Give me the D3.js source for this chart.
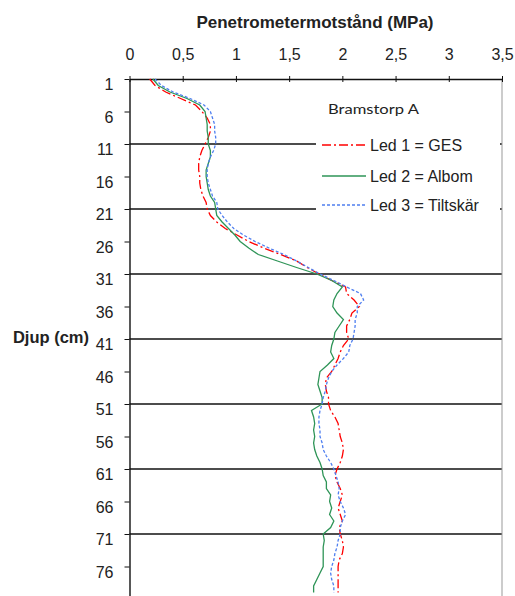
<!DOCTYPE html>
<html>
<head>
<meta charset="utf-8">
<script src="https://cdn.jsdelivr.net/npm/d3@7"></script>
<style>
body{margin:0;background:#fff;}
svg text{font-family:"Liberation Sans",Arial,sans-serif;fill:#222;}
</style>
</head>
<body>
<div id="container"></div>
<script>
// depth in cm
var depth = [1,2,3,4,5,6,7,8,9,10,11,12,13,14,15,16,17,18,19,20,
  21,22,23,24,25,26,27,28,29,30,31,32,33,34,35,36,37,38,39,40,
  41,42,43,44,45,46,47,48,49,50,51,52,53,54,55,56,57,58,59,60,
  61,62,63,64,65,66,67,68,69,70,71,72,73,74,75,76,77,78,79,80]

// Led 1 = GES
var led1 = [0.19,0.24,0.34,0.48,0.62,0.68,0.73,0.76,0.76,0.74,0.71,0.68,0.66,0.65,0.65,0.66,0.66,0.67,0.69,0.72,
  0.73,0.76,0.82,0.90,1.01,1.12,1.26,1.42,1.57,1.67,1.78,1.90,2.03,2.04,2.11,2.16,2.09,2.07,2.04,2.04,
  2.06,2.01,1.98,1.96,1.93,1.90,1.85,1.84,1.85,1.87,1.87,1.89,1.93,1.96,1.97,1.98,2.00,2.01,2.00,1.98,
  1.95,1.93,1.95,1.98,2.00,1.98,1.96,1.98,2.00,1.97,1.98,2.00,2.01,2.00,1.97,1.96,1.96,1.96,1.96,1.96]

// Led 2 = Albom
var led2 = [0.22,0.27,0.38,0.54,0.66,0.71,0.72,0.73,0.73,0.74,0.74,0.76,0.76,0.74,0.72,0.72,0.73,0.74,0.76,0.80,
  0.81,0.82,0.87,0.93,0.99,1.04,1.12,1.21,1.39,1.57,1.76,1.90,2.00,1.95,1.92,1.91,1.95,2.01,1.97,1.93,
  1.92,1.90,1.89,1.92,1.86,1.79,1.78,1.77,1.79,1.81,1.81,1.71,1.73,1.74,1.73,1.74,1.73,1.74,1.76,1.79,
  1.81,1.82,1.85,1.85,1.89,1.88,1.90,1.88,1.92,1.89,1.82,1.83,1.82,1.82,1.82,1.82,1.79,1.76,1.73,1.73]

// Led 3 = Tiltskär
var led3 = [0.24,0.30,0.41,0.57,0.70,0.76,0.78,0.80,0.80,0.81,0.81,0.79,0.76,0.74,0.73,0.73,0.74,0.76,0.78,0.82,
  0.83,0.87,0.92,0.98,1.07,1.18,1.31,1.45,1.57,1.68,1.79,1.92,2.04,2.17,2.20,2.14,2.14,2.12,2.12,2.11,
  2.10,2.07,2.06,2.01,1.95,1.90,1.87,1.85,1.84,1.82,1.81,1.79,1.78,1.78,1.79,1.79,1.81,1.82,1.85,1.89,
  1.92,1.94,1.96,1.97,1.96,1.98,2.01,2.03,2.00,1.98,1.98,1.96,1.95,1.93,1.92,1.90,1.89,1.90,1.92,1.92]

var xTicks = [0,0.5,1,1.5,2,2.5,3,3.5]
var yTicks = [1,6,11,16,21,26,31,36,41,46,51,56,61,66,71,76]
var gridDepths = [11,21,31,41,51,61,71]
var seriesNames = ["Led 1 = GES","Led 2 = Albom","Led 3 = Tiltskär"]
var seriesColors = ["#ff0000","#2e9457","#4f7ff0"]
var seriesDash = ["9,3,2,3","none","3,2"]

var W = 515, H = 596
var svg = d3.select("#container").append("svg").attr("width",W).attr("height",H)

var xScale = d3.scaleLinear().domain([0,3.5]).range([129.5,502])
var yScale = d3.scaleLinear().domain([1,81]).range([79,599])

// gridlines
svg.selectAll(".grid").data(gridDepths).enter().append("line")
  .attr("class","grid")
  .attr("x1",xScale(0)).attr("x2",xScale(3.5))
  .attr("y1",function(d){return yScale(d)}).attr("y2",function(d){return yScale(d)})
  .attr("stroke","#111").attr("stroke-width",1.4)

// right border
svg.append("line")
  .attr("x1",xScale(3.5)).attr("x2",xScale(3.5))
  .attr("y1",yScale(1)).attr("y2",H)
  .attr("stroke","#999").attr("stroke-width",1)

// top axis
var xAxis = svg.append("g").attr("transform","translate(0,"+yScale(1)+")")
  .call(d3.axisTop(xScale).tickValues(xTicks).tickSizeInner(3).tickSizeOuter(0).tickPadding(16)
    .tickFormat(function(d){return String(d).replace(".",",")}))
xAxis.select(".domain").attr("stroke","#111").attr("stroke-width",1.4)
xAxis.selectAll(".tick line").attr("y1",-3).attr("y2",3).attr("stroke","#111")
xAxis.selectAll("text").attr("font-size",16).attr("fill","#222")
  .style("font-family","Liberation Sans, Arial, sans-serif")

// left axis
var yAxis = svg.append("g").attr("transform","translate("+xScale(0)+",0)")
  .call(d3.axisLeft(yScale).tickValues(yTicks).tickSizeInner(5).tickSizeOuter(0).tickPadding(11))
yAxis.select(".domain").attr("stroke","#111").attr("stroke-width",1.4)
yAxis.selectAll(".tick line").attr("stroke","#111")
yAxis.selectAll("text").attr("font-size",16).attr("dy","0.68em").attr("fill","#222")
  .style("font-family","Liberation Sans, Arial, sans-serif")

// series
var allSeries = [led1,led2,led3]
var line = d3.line()
  .x(function(d){return xScale(d[1])})
  .y(function(d){return yScale(d[0])})
allSeries.forEach(function(s,i){
  svg.append("path")
    .datum(depth.map(function(d,j){return [d,s[j]]}))
    .attr("fill","none")
    .attr("stroke",seriesColors[i])
    .attr("stroke-width",1.3)
    .attr("stroke-dasharray",seriesDash[i])
    .attr("d",line)
})

// legend
svg.append("rect").attr("x",316).attr("y",130).attr("width",184).attr("height",86).attr("fill","#fff")
svg.append("text").attr("x",328).attr("y",114).attr("font-size",14)
  .style("font-family","Lato, sans-serif").attr("textLength",91).attr("lengthAdjust","spacingAndGlyphs")
  .text("Bramstorp A")
var legY = [145,176,205]
seriesNames.forEach(function(n,i){
  svg.append("line").attr("x1",322).attr("x2",366).attr("y1",legY[i]).attr("y2",legY[i])
    .attr("stroke",seriesColors[i]).attr("stroke-width",1.3).attr("stroke-dasharray",seriesDash[i])
  svg.append("text").attr("x",370).attr("y",legY[i]+6).attr("font-size",16).text(n)
})

// titles
svg.append("text").attr("x",315).attr("y",28).attr("text-anchor","middle")
  .attr("font-size",17).attr("font-weight","bold").attr("fill","#111").text("Penetrometermotstånd (MPa)")
svg.append("text").attr("x",89).attr("y",343).attr("text-anchor","end")
  .attr("font-size",16.5).attr("font-weight","bold").attr("fill","#111").text("Djup (cm)")
</script>
</body>
</html>
